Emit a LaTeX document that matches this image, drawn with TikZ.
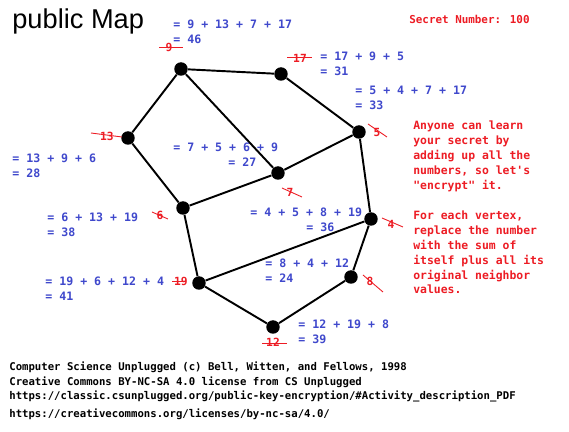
\documentclass[tikz,border=0pt]{standalone}
\usepackage{fontspec}
\usetikzlibrary{calc}
\newfontfamily\codefont{DejaVu Sans Mono}
\newfontfamily\titlefont{Liberation Sans}
\definecolor{sumcolor}{RGB}{63,72,204}
\definecolor{oldcolor}{RGB}{237,28,36}

\begin{document}
\begin{tikzpicture}[
	x=0.02cm,
	y=-0.02cm,
	vertex/.style={
		circle,
		fill=black,
		inner sep=0pt,
		minimum size=0.27cm
	},
	edge/.style={
		draw,
		line width=1.1pt
	},
	sum/.style={
		anchor=base west,
		inner sep=0pt,
		align=left,
		color=sumcolor,
		font=\codefont\bfseries\fontsize{6.6}{8.8}\selectfont
	},
	old/.style={
		inner sep=0pt,
		color=oldcolor,
		font=\codefont\bfseries\fontsize{6.4}{8}\selectfont
	},
	strike/.style={
		draw=oldcolor,
		line width=0.5pt
	},
	note/.style={
		anchor=base west,
		inner sep=0pt,
		align=left,
		color=oldcolor,
		font=\codefont\bfseries\fontsize{6.5}{8.5}\selectfont
	}
	]
	
	% Page
	\path[fill=white, use as bounding box] (0,0) rectangle (569,432);
	
	% Title
	\node[anchor=base west, inner sep=0pt, font=\titlefont\fontsize{15.5}{18}\selectfont] (title) at (12,29) {public Map};
	\node[note, font=\codefont\bfseries\fontsize{6.2}{8}\selectfont] (secret) at (409,24) {Secret Number: 100};
	
	% Vertices
	\node[vertex] (v9) at (181,69) {};
	\node[vertex] (v17) at (281,74) {};
	\node[vertex] (v5) at (359,132) {};
	\node[vertex] (v13) at (128,138) {};
	\node[vertex] (v7) at (278,173) {};
	\node[vertex] (v6) at (183,208) {};
	\node[vertex] (v4) at (371,219) {};
	\node[vertex] (v8) at (351,277) {};
	\node[vertex] (v19) at (199,283) {};
	\node[vertex] (v12) at (273,327) {};
	
	% Edges
	\path[edge] (v9) -- (v17);
	\path[edge] (v9) -- (v13);
	\path[edge] (v9) -- (v7);
	\path[edge] (v17) -- (v5);
	\path[edge] (v5) -- (v7);
	\path[edge] (v5) -- (v4);
	\path[edge] (v13) -- (v6);
	\path[edge] (v7) -- (v6);
	\path[edge] (v6) -- (v19);
	\path[edge] (v19) -- (v4);
	\path[edge] (v19) -- (v12);
	\path[edge] (v12) -- (v8);
	\path[edge] (v8) -- (v4);
	
	% Original numbers, crossed out
	\node[old] (o9) at (169,47) {9};
	\node[old] (o17) at (300,58) {17};
	\node[old] (o5) at (377,132) {5};
	\node[old] (o13) at (107,136) {13};
	\node[old] (o7) at (290,192) {7};
	\node[old] (o6) at (160,215) {6};
	\node[old] (o4) at (391,224) {4};
	\node[old] (o8) at (370,281) {8};
	\node[old] (o19) at (181,281) {19};
	\node[old] (o12) at (273,342) {12};
	\path[strike] ($(o9)+(-10,0)$) -- ($(o9)+(14,0)$);
	\path[strike] ($(o17)+(-13,-1)$) -- ($(o17)+(12,-1)$);
	\path[strike] ($(o5)+(-9,-8)$) -- ($(o5)+(10,5)$);
	\path[strike] ($(o13)+(-16,-3)$) -- ($(o13)+(15,1)$);
	\path[strike] ($(o7)+(-8,-4)$) -- ($(o7)+(12,5)$);
	\path[strike] ($(o6)+(-8,-3)$) -- ($(o6)+(8,4)$);
	\path[strike] ($(o4)+(-9,-6)$) -- ($(o4)+(12,3)$);
	\path[strike] ($(o8)+(-7,-6)$) -- ($(o8)+(13,11)$);
	\path[strike] ($(o19)+(-9,0)$) -- ($(o19)+(5,0)$);
	\path[strike] ($(o12)+(-11,1)$) -- ($(o12)+(14,1)$);
	
	% New sums (placed by the baseline of the last line)
	\node[sum] (s9) at (173,44) {= 9 + 13 + 7 + 17\\= 46};
	\node[sum] (s17) at (320,76) {= 17 + 9 + 5\\= 31};
	\node[sum] (s5) at (355,110) {= 5 + 4 + 7 + 17\\= 33};
	\node[sum] (s13) at (12,178) {= 13 + 9 + 6\\= 28};
	\node[sum] (s7) at (173,152) {= 7 + 5 + 6 + 9};
	\node[sum] (s7r) at (228,167) {= 27};
	\node[sum] (s6) at (47,237) {= 6 + 13 + 19\\= 38};
	\node[sum] (s4) at (250,217) {= 4 + 5 + 8 + 19};
	\node[sum] (s4r) at (306,232) {= 36};
	\node[sum] (s8) at (265,283) {= 8 + 4 + 12\\= 24};
	\node[sum] (s19) at (45,301) {= 19 + 6 + 12 + 4\\= 41};
	\node[sum] (s12) at (298,344) {= 12 + 19 + 8\\= 39};
	
	% Explanation
	\node[note] (explain) at (413,294) {Anyone can learn\\your secret by\\adding up all the\\numbers, so let\textquotesingle s\\\textquotedbl encrypt\textquotedbl{} it.\\[8.5pt]For each vertex,\\replace the number\\with the sum of\\itself plus all its\\original neighbor\\values.};
	
	% Credits
	\node[anchor=base west, inner sep=0pt, align=left, font=\codefont\bfseries\fontsize{6.06}{8.2}\selectfont] (credits) at (9,418) {Computer Science Unplugged (c) Bell, Witten, and Fellows, 1998\\Creative Commons BY-NC-SA 4.0 license from CS Unplugged\\https://classic.csunplugged.org/public-key-encryption/\#Activity\_description\_PDF\\[2.3pt]https://creativecommons.org/licenses/by-nc-sa/4.0/};
	
\end{tikzpicture}
\end{document}
